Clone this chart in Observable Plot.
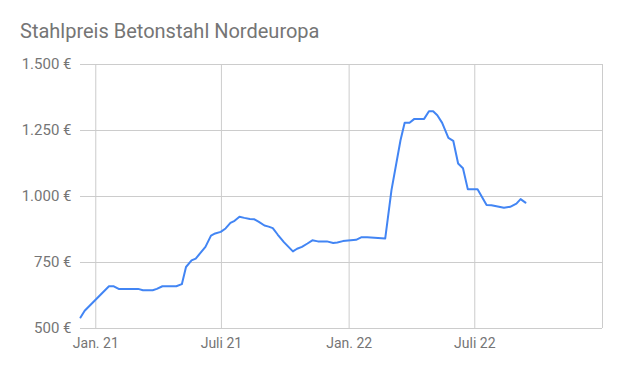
<!DOCTYPE html>
<html>
<head>
<meta charset="utf-8">
<script src="https://cdn.jsdelivr.net/npm/d3@7"></script>
<script src="https://cdn.jsdelivr.net/npm/@observablehq/plot@0.6"></script>
<style>
  html, body { margin: 0; padding: 0; background: #fff; }
  #wrap { position: relative; width: 620px; height: 371px; overflow: hidden; font-family: Roboto, sans-serif; }
  #title { position: absolute; left: 20px; top: 19px; font-size: 20px; color: #757575; white-space: nowrap; line-height: normal; }
  #chart { position: absolute; left: 0; top: 50px; }
</style>
</head>
<body>
<div id="wrap">
  <div id="title">Stahlpreis Betonstahl Nordeuropa</div>
  <div id="chart"></div>
</div>
<script>
const dates = ["2020-12-10","2020-12-16","2021-01-20","2021-01-27","2021-02-03","2021-03-03","2021-03-10","2021-03-24","2021-03-30","2021-04-07",
  "2021-04-27","2021-05-05","2021-05-11","2021-05-19","2021-05-25","2021-06-02","2021-06-08","2021-06-16","2021-06-22","2021-06-30",
  "2021-07-07","2021-07-14","2021-07-20","2021-07-27","2021-08-03","2021-08-11","2021-08-17","2021-08-24","2021-09-01","2021-09-07",
  "2021-09-13","2021-09-20","2021-09-29","2021-10-12","2021-10-18","2021-10-25","2021-11-02","2021-11-09","2021-11-17","2021-11-30",
  "2021-12-09","2021-12-15","2021-12-23","2022-01-11","2022-01-19","2022-01-27","2022-02-22","2022-03-03","2022-03-16","2022-03-22",
  "2022-03-29","2022-04-05","2022-04-19","2022-04-26","2022-05-02","2022-05-08","2022-05-15","2022-05-24","2022-05-31","2022-06-07",
  "2022-06-14","2022-06-21","2022-07-05","2022-07-18","2022-07-25","2022-08-12","2022-08-21","2022-08-30","2022-09-05","2022-09-12"];
const prices = [542,567,660,660,650,650,645,645,650,660,
  660,668,733,758,765,790,809,852,860,866,
  879,900,908,923,919,915,914,904,890,886,
  880,856,827,792,802,809,822,834,830,830,
  824,826,831,836,846,846,841,1024,1213,1279,
  1279,1294,1294,1323,1323,1308,1279,1222,1211,1125,
  1107,1027,1027,968,967,957,961,973,990,977];

const xTickDates = ["2021-01-01","2021-07-01","2022-01-01","2022-07-01"];
const xTickLabels = ["Jan. 21","Juli 21","Jan. 22","Juli 22"];
const xGridDates = ["2021-01-01","2021-07-01","2022-01-01","2022-07-01","2023-01-01"];
const yTicks = [500,750,1000,1250,1500];
const xDomain = ["2020-12-10","2023-01-01"];
const yDomain = [500,1500];

const data = dates.map((d, i) => ({date: new Date(d), price: prices[i]}));
const de = d3.formatLocale({decimal: ",", thousands: ".", grouping: [3], currency: ["", " €"]});
const fmt = de.format(",.0f");
const labelMap = new Map(xTickDates.map((d, i) => [+new Date(d), xTickLabels[i]]));

const chart = Plot.plot({
  width: 620,
  height: 321,
  marginLeft: 80,
  marginRight: 18,
  marginTop: 14,
  marginBottom: 43,
  style: {fontFamily: "Roboto, sans-serif", color: "#757575", background: "#fff"},
  x: {type: "utc", domain: xDomain.map(d => new Date(d))},
  y: {domain: yDomain},
  marks: [
    Plot.ruleY(yTicks, {stroke: "#cccccc", strokeWidth: 1, strokeOpacity: 1}),
    Plot.ruleX(xGridDates.map(d => new Date(d)), {stroke: "#cccccc", strokeWidth: 1, strokeOpacity: 1}),
    Plot.axisY({ticks: yTicks, tickSize: 0, tickPadding: 9, tickFormat: d => fmt(d) + " €", fontSize: 15, label: null, fill: "#757575"}),
    Plot.axisX({ticks: xTickDates.map(d => new Date(d)), tickSize: 0, tickPadding: 9.5, tickFormat: d => labelMap.get(+d), fontSize: 14, label: null, fill: "#757575"}),
    Plot.line(data, {x: "date", y: "price", stroke: "#4285f4", strokeWidth: 2, curve: "linear"})
  ]
});
document.getElementById("chart").appendChild(chart);
</script>
</body>
</html>
